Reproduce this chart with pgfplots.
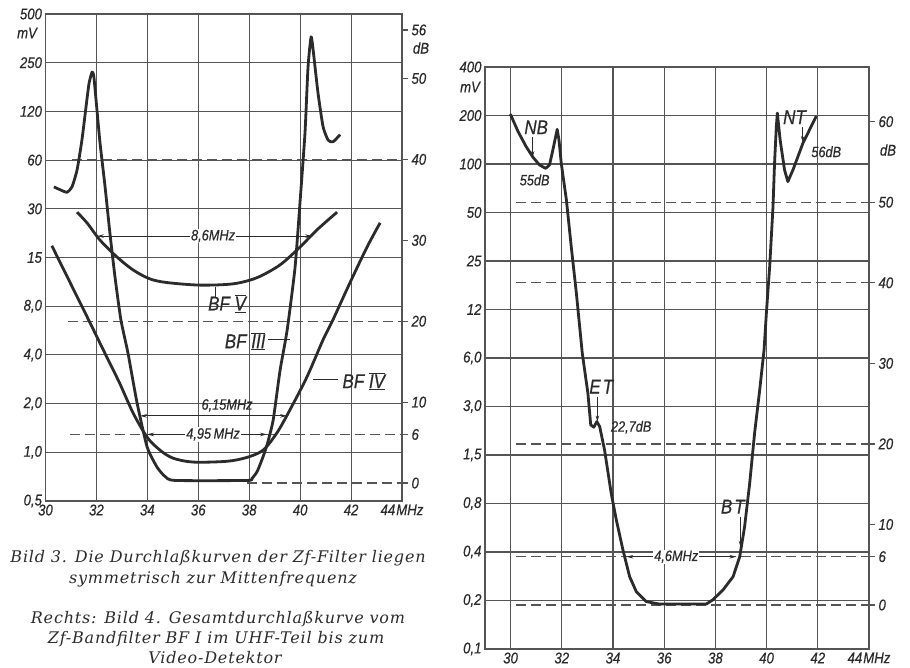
\documentclass[border=0pt]{standalone}
\usepackage{pgfplots}
\pgfplotsset{compat=1.18}
\usepackage{fontspec}
\setmainfont{Liberation Sans}[FakeStretch=0.85]
\newfontfamily\capfont{DejaVu Serif}[LetterSpace=5]
\usetikzlibrary{arrows.meta}

\definecolor{ink}{HTML}{2B2B2B}
\definecolor{gridc}{HTML}{555555}

% Roman numeral with bars, as on the drawing
\newcommand\rn[1]{$\overline{\underline{\hbox{#1}}}$}
\newcommand\tickfont{\fontsize{15.5}{15.5}\selectfont\itshape\addfontfeatures{FakeBold=0.5}}

\tikzset{
  dashln/.style={gridc, line width=1.2pt, dash pattern=on 10pt off 5pt},
  dimln/.style={ink, line width=1pt, {Stealth[length=7pt,width=3.5pt]}-{Stealth[length=7pt,width=3.5pt]}},
  arrln/.style={ink, line width=1pt, -{Stealth[length=6pt,width=3.5pt]}},
  biglab/.style={font=\fontsize{20}{20}\selectfont\itshape\addfontfeatures{FakeBold=0.5}, text=ink, inner sep=1pt},
  smlab/.style={font=\fontsize{15}{15}\selectfont\itshape\addfontfeatures{FakeBold=0.4}, text=ink, inner sep=1pt},
  curve/.style={ink, line width=2.8pt, line join=round},
}

\pgfplotsset{
  mvaxis/.style={
    scale only axis,
    grid=major,
    major grid style={gridc, line width=1.1pt},
    axis line style={gridc, line width=1.6pt},
    major tick length=0pt,
    tick label style={font=\tickfont, text=ink},
    xtick={30,32,...,44},
    xticklabels={30,32,34,36,38,40,42,44\kern1ptMHz},
  },
  dbaxis/.style={
    scale only axis,
    axis x line=none, axis y line*=right,
    axis line style={draw=none},
    tick align=outside, major tick length=6pt,
    major tick style={gridc, line width=1.2pt},
    tick label style={font=\tickfont, text=ink},
  },
}

\begin{document}
\begin{tikzpicture}
\useasboundingbox (0,0) rectangle (910pt,667pt);

%%%% Bild 3 %%%%
\begin{axis}[dbaxis, anchor=south west, at={(45.5pt,166pt)}, width=356.5pt, height=487pt,
  xmin=30, xmax=44, ymin=-2.22, ymax=57.97,
  ytick={0,6,10,20,30,40,50,56},
  yticklabels={0,6,10,20,30,40,50,56}]
\addplot[dashln] coordinates {(31.04,40) (44,40)};
\addplot[dashln] coordinates {(30.88,20) (44,20)};
\addplot[dashln] coordinates {(30.96,6) (44,6)};
\addplot[dashln] coordinates {(37.9,0) (44,0)};
\end{axis}

\begin{semilogyaxis}[mvaxis, log basis y=2, anchor=south west, at={(45.5pt,166pt)}, width=356.5pt, height=487pt,
  xmin=30, xmax=44, ymin=0.5, ymax=512,
  ytick={0.5,1,2,4,8,16,32,64,128,256,512},
  yticklabels={{0,5},{1,0},{2,0},{4,0},{8,0},15,30,60,120,250,500}]

% BF III
\addplot[curve, smooth, tension=0.35] coordinates {
(30.33,43.7) (30.57,42) (30.84,40.5) (31.04,43.7) (31.24,55.7) (31.43,85)
(31.59,136) (31.71,191) (31.83,224) (31.90,209) (32.02,131) (32.14,82)
(32.34,43.7) (32.53,22.6) (32.73,12.1) (32.96,6.6) (33.24,4.1) (33.59,2.04)
(33.99,1.08) (34.38,0.81) (34.69,0.71) (35.09,0.67) (37.91,0.67) (38.11,0.69)
(38.31,0.76) (38.50,0.90) (38.70,1.11) (38.94,1.58) (39.21,3.2) (39.49,5.7)
(39.80,13.9) (40.00,36) (40.19,94) (40.31,241) (40.43,370) (40.51,307)
(40.70,167) (40.90,103) (41.10,85) (41.29,83) (41.57,92)};

% BF V
\addplot[curve, smooth] coordinates {
(31.24,30.5) (31.63,26.2) (32.14,20.5) (32.81,16.1) (33.44,13.4) (34.1,11.8)
(34.77,11.2) (36.07,10.8) (37.37,11.0) (38.3,12.0) (39.21,14.4) (40,18.6)
(40.66,23.7) (41.45,30.5)};

% BF IV
\addplot[curve, smooth] coordinates {
(30.25,18.9) (30.86,12.1) (31.69,6.6) (32.40,3.9) (32.91,2.68) (33.44,1.75)
(33.99,1.24) (34.5,1.03) (35.01,0.92) (35.8,0.87) (37.13,0.88) (37.91,0.93)
(38.54,1.03) (39.09,1.32) (39.6,1.83) (40.27,2.93) (40.9,4.96) (41.29,6.6)
(41.96,11.2) (42.63,18.6) (43.14,26.2)};

\addplot[dimln] coordinates {(32.02,21.7) (40.47,21.7)};
\addplot[dimln] coordinates {(33.71,1.68) (39.49,1.68)};
\addplot[dimln] coordinates {(33.99,1.29) (38.70,1.29)};
\draw[ink, line width=1pt] (axis cs:36.66,10.5) -- (axis cs:36.66,9.1);
\draw[ink, line width=1pt] (axis cs:38.75,4.95) -- (axis cs:39.6,4.95);
\draw[ink, line width=1pt] (axis cs:40.51,2.8) -- (axis cs:41.5,2.8);

\node[smlab, fill=white] at (axis cs:36.58,21.7) {8,6MHz};
\node[smlab] at (axis cs:37.13,1.95) {6,15MHz};
\node[smlab, fill=white] at (axis cs:36.58,1.29) {4,95\,MHz};
\node[biglab] at (axis cs:37.13,8.3) {BF \rn{V}};
\node[biglab] at (axis cs:37.84,4.85) {BF \rn{III}};
\node[biglab] at (axis cs:42.5,2.75) {BF \rn{IV}};
\end{semilogyaxis}

%%%% Bild 4 %%%%
\begin{axis}[dbaxis, anchor=south west, at={(485pt,18pt)}, width=384pt, height=582pt,
  xmin=29, xmax=44, ymin=-5.46, ymax=66.79,
  ytick={0,6,10,20,30,40,50,60},
  yticklabels={0,6,10,20,30,40,50,60}]
\addplot[dashln] coordinates {(30.23,50) (44,50)};
\addplot[dashln] coordinates {(30.23,40) (44,40)};
\addplot[dashln] coordinates {(30.23,20) (44,20)};
\addplot[dashln] coordinates {(30.23,6) (44,6)};
\addplot[dashln] coordinates {(30.23,0) (44,0)};
\end{axis}

\begin{semilogyaxis}[mvaxis, log basis y=2, anchor=south west, at={(485pt,18pt)}, width=384pt, height=582pt,
  xmin=29, xmax=44, ymin=0.1, ymax=409.6,
  ytick={0.1,0.2,0.4,0.8,1.6,3.2,6.4,12.8,25.6,51.2,102.4,204.8,409.6},
  yticklabels={{0,1},{0,2},{0,4},{0,8},{1,5},{3,0},{6,0},12,25,50,100,200,400}]

\addplot[curve] coordinates {
(29.99,209) (30.29,163) (30.61,131) (30.87,113) (31.13,101) (31.37,96.2)
(31.52,101) (31.65,125) (31.82,168) (31.89,144) (31.98,103) (32.18,61.2)
(32.37,31.3) (32.57,16.1) (32.8,6.85) (33.02,3.86) (33.13,2.46) (33.25,2.38)
(33.37,2.58) (33.48,2.40) (33.67,1.72) (33.93,0.925) (34.13,0.632)
(34.39,0.411) (34.65,0.281) (34.91,0.227) (35.3,0.197) (35.82,0.190)
(37.64,0.190) (37.9,0.202) (38.3,0.233) (38.69,0.281) (38.95,0.374)
(39.14,0.574) (39.34,1.07) (39.53,2.18) (39.73,4.05) (39.9,7.17) (39.99,12.1)
(40.12,23.6) (40.25,55.6) (40.31,103) (40.38,175) (40.42,212) (40.53,144)
(40.70,94.2) (40.83,79.6) (41.03,94.2) (41.42,138) (41.94,203)};

\addplot[dimln] coordinates {(34.52,0.374) (38.82,0.374)};
\draw[arrln] (axis cs:30.86,151) -- (axis cs:30.86,113);
\draw[arrln] (axis cs:41.41,173) -- (axis cs:41.41,140);
\draw[arrln] (axis cs:33.39,3.68) -- (axis cs:33.39,2.58);
\draw[arrln] (axis cs:38.98,0.663) -- (axis cs:38.98,0.431);

\node[biglab] at (axis cs:31.0,173) {NB};
\node[smlab] at (axis cs:30.94,81.5) {55dB};
\node[biglab] at (axis cs:41.09,200) {NT};
\node[smlab] at (axis cs:42.33,122) {56dB};
\node[biglab] at (axis cs:33.54,4.25) {E\hspace{2pt}T};
\node[smlab] at (axis cs:34.71,2.38) {22,7dB};
\node[biglab] at (axis cs:38.68,0.765) {B\hspace{2pt}T};
\node[smlab, fill=white] at (axis cs:36.47,0.374) {4,6MHz};
\end{semilogyaxis}

% unit labels
\node[font=\tickfont, text=ink] at (27pt,634pt) {mV};
\node[font=\tickfont, text=ink] at (421pt,619pt) {dB};
\node[font=\tickfont, text=ink] at (470pt,580pt) {mV};
\node[font=\tickfont, text=ink] at (888pt,517pt) {dB};

% captions
\begin{scope}[every node/.style={font=\capfont\itshape\fontsize{16}{16}\selectfont, text=ink}]
\node at (218pt,109pt) {Bild 3. Die Durchlaßkurven der Zf-Filter liegen};
\node at (213pt,88pt) {symmetrisch zur Mittenfrequenz};
\node at (218pt,48pt) {Rechts: Bild 4. Gesamtdurchlaßkurve vom};
\node at (216pt,28pt) {Zf-Bandfilter BF I im UHF-Teil bis zum};
\node at (215pt,9pt) {Video-Detektor};
\end{scope}
\end{tikzpicture}
\end{document}
